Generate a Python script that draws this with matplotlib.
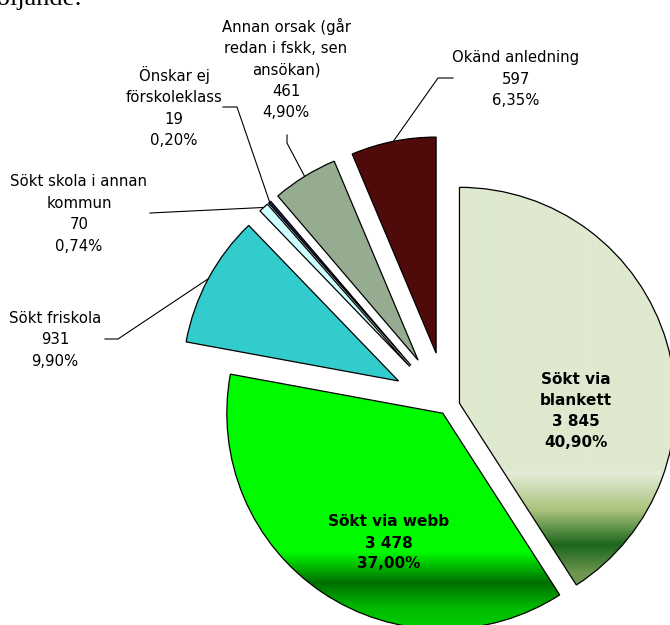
import numpy as np
import matplotlib
matplotlib.use("Agg")
import matplotlib.pyplot as plt

# data
names = ["Sökt via\nblankett", "Sökt via webb", "Sökt friskola",
         "Sökt skola i annan\nkommun", "Önskar ej\nförskoleklass",
         "Annan orsak (går\nredan i fskk, sen\nansökan)", "Okänd anledning"]
counts = [3845, 3478, 931, 70, 19, 461, 597]
colors = ["#DEE9CF", "#00FF00", "#33CCCC", "#CCFFFF", "#1F1F5F", "#96AC91", "#4F0A0A"]
explode = [13, 7.5, 55, 55, 55, 55, 55]

W, H = 670, 625
center = (447, 407)
R = 216

fig = plt.figure(figsize=(W / 100, H / 100), dpi=100)
ax = fig.add_axes([0, 0, 1, 1])

# y axis inverted -> counterclock in data is clockwise on screen, 270 = 12 o'clock
wedges, _ = ax.pie(counts, explode=explode, colors=colors, startangle=270,
                   counterclock=True, radius=R, center=center,
                   wedgeprops=dict(edgecolor="black", linewidth=0.9))


def gradient(wedge, stops):
    ys = np.arange(H + 1)
    sy = [s[0] for s in stops]
    rgb = np.stack([np.interp(ys, sy, [s[1][i] for s in stops]) for i in range(3)], axis=1) / 255
    img = np.repeat(rgb[:, None, :], 2, axis=1)
    im = ax.imshow(img, extent=(0, W, H + 0.5, -0.5), aspect="auto", zorder=0.5,
                   interpolation="bilinear")
    im.set_clip_path(wedge)
    wedge.set_facecolor("none")


gradient(wedges[0], [(0, (222, 233, 207)), (466, (222, 233, 207)), (474, (226, 235, 213)),
                     (510, (170, 195, 125)), (545, (28, 102, 28)), (573, (110, 150, 80)),
                     (625, (125, 162, 92))])
gradient(wedges[1], [(0, (0, 255, 0)), (552, (0, 250, 0)), (583, (0, 110, 0)),
                     (607, (0, 185, 0)), (625, (0, 205, 0))])

total = sum(counts)
texts = []
for n, c in zip(names, counts):
    pct = f"{100 * c / total:.2f}".replace(".", ",")
    num = f"{c:,}".replace(",", " ")
    texts.append(f"{n}\n{num}\n{pct}%")

# inner labels
inner_pos = {0: (576, 411), 1: (389, 543)}
for i, (x, y) in inner_pos.items():
    ax.text(x, y, texts[i], ha="center", va="center", fontsize=11,
            fontweight="bold", linespacing=1.5, zorder=5)

# outer labels with leader lines (text pos, elbow points)
outer = {
    2: ((55, 340), [(105, 339), (118, 339)]),
    3: ((79, 214), [(150, 213)]),
    4: ((174, 107), [(223, 107), (237, 107)]),
    5: ((286, 69), [(287, 135), (287, 143)]),
    6: ((516, 79), [(453, 78), (438, 78)]),
}
for i, ((x, y), pts) in outer.items():
    ax.text(x, y, texts[i], ha="center", va="center", fontsize=10.7,
            linespacing=1.53, zorder=5)
    w = wedges[i]
    mid = np.deg2rad((w.theta1 + w.theta2) / 2)
    ax_, ay_ = w.center[0] + R * np.cos(mid), w.center[1] + R * np.sin(mid)
    xs = [p[0] for p in pts] + [ax_]
    ys = [p[1] for p in pts] + [ay_]
    ax.plot(xs, ys, color="black", linewidth=0.8, zorder=4)

# leftover heading text cut by the top edge
ax.text(-12, 5, "följande:", fontsize=19, family=["Liberation Serif", "DejaVu Serif"],
        ha="left", va="baseline")

ax.set_xlim(0, W)
ax.set_ylim(H, 0)
ax.axis("off")

fig.savefig("out.png", dpi=100)
